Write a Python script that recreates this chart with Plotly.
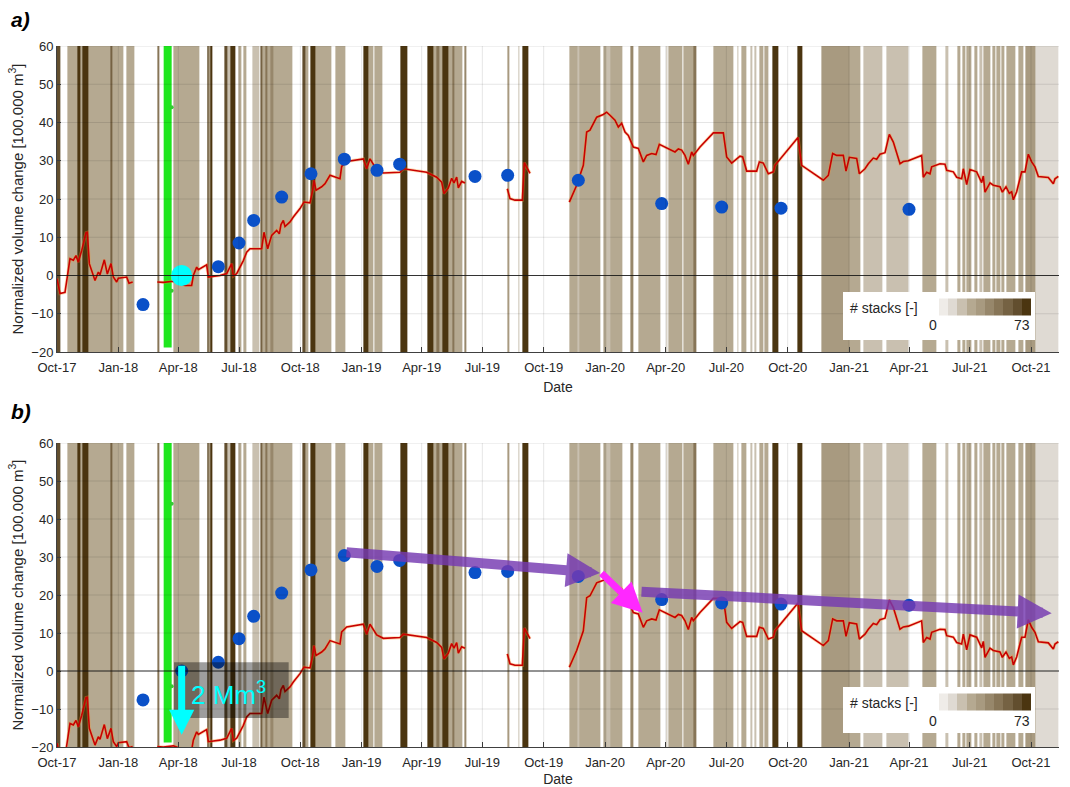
import numpy as np
import pandas as pd
import plotly.graph_objects as go
from plotly.subplots import make_subplots

# ---------------- data ----------------
T0 = pd.Timestamp("2017-10-01")          # day offsets below are counted from this date
X_RANGE = ["2017-10-01", "2021-11-12"]
Y_RANGE = [-20, 60]
Y_TICKS = [-20, -10, 0, 10, 20, 30, 40, 50, 60]
X_TICKS = list(pd.date_range("2017-10-01", "2021-10-01", freq="3MS"))

# stack-count bands (days since T0, start / end, number of stacks)
BAND_START = [-1, 15, 30, 34.5, 37.5, 46.5, 79.5, 83, 103.5, 150, 174, 225, 227, 230.5,
              250.5, 255, 259.5, 271.5, 279, 292.5, 304.5, 307.5, 312, 315, 319.5, 324,
              367.5, 372, 379.5, 387, 417, 459, 466.5, 475.5, 514.5, 555, 564, 568.5, 573,
              577.5, 586.5, 592.5, 595.5, 611, 675, 691.5, 698, 768, 780, 784, 819, 823.5,
              829.5, 859.5, 871.5, 913.5, 917, 939, 954, 984, 1020, 1026, 1039.5, 1045.5,
              1053, 1060.5, 1073, 1110, 1146, 1188, 1209, 1243.5, 1297.5, 1332, 1350,
              1357.5, 1363.5, 1375.5, 1383, 1389, 1402.5, 1408.5, 1416, 1423.5, 1441.5,
              1452, 1467]
BAND_END = [4.5, 30, 34.5, 37.5, 46.5, 79.5, 83, 99, 115.5, 153, 213, 227, 230.5, 232.5,
            255, 259.5, 267, 276, 283.5, 303, 307.5, 312, 315, 319.5, 324, 352.5,
            372, 376.5, 387, 411, 432, 466.5, 474, 487.5, 525.5, 564, 568.5, 573, 577.5,
            586.5, 592.5, 595.5, 607.5, 613.5, 679, 694, 707, 780, 784, 814.5, 823.5, 829.5,
            847.5, 864, 904.5, 915.5, 937.5, 954, 958.5, 1014, 1022, 1034, 1042.5, 1048.5,
            1059, 1066.5, 1081.5, 1118, 1188, 1204.5, 1237.5, 1276.5, 1318.5, 1336.5, 1354.5,
            1362, 1371, 1380, 1387.5, 1399.5, 1407, 1414.5, 1420.5, 1437, 1449,
            1467, 1501.5]
BAND_STACKS = [60, 25, 68, 25, 70, 25, 55, 25, 22, 50, 25, 68, 30, 68,
               60, 18, 68, 22, 25, 18, 55, 25, 45, 25, 40, 25,
               62, 25, 68, 25, 22, 73, 25, 22, 73, 70, 25, 50, 25,
               70, 25, 45, 22, 40, 35, 18, 70, 25, 15, 25, 25, 18,
               25, 40, 27, 20, 23, 25, 45, 25, 18, 22, 18, 20,
               22, 22, 73, 73, 30, 25, 18, 18, 25, 15, 22,
               22, 25, 22, 20, 25, 22, 25, 22, 25, 22,
               30, 10]
STACK_MAX = 73
STACK_COLORS = ["#efece8", "#dfdad3", "#c9c0b0", "#b5a991", "#a89a80",
                "#97876b", "#877557", "#756243", "#624e2e", "#4b3510"]

# normalized volume change, panel a (days since T0, 100.000 m3); None = data gap
LINE_DAY = [0, 4.5, 12, 19.5, 24.5, 28.5, 32, 37, 43.5, 45.5, 48.5, 57, 62, 64.5, 71, 75.5,
            81, 84.5, 89.5, 92, 104.5, 108, 113.5, 130,
            150.5, 159.5, 174.5, 192, 202, 204.5, 209.5, 212, 224.5, 227, 244.5, 254.5, 262,
            264.5, 269.5, 279.5, 284.5, 289.5, 307, 310.5, 316, 322, 329.5, 333.5, 336,
            339.5, 342, 349.5, 354.5, 364.5, 370.5, 379.5, 383.5, 385.5, 388.5, 397, 402,
            409.5, 424.5, 427, 434.5, 454.5, 459.5, 464.5, 469.5, 479.5, 489.5, 514.5,
            519.5, 554.5, 569.5, 577, 580.5, 587, 592, 595.5, 599.5, 602, 607, 612, 640,
            675.5, 679.5, 687, 698, 701, 704.5, 709.5, 740,
            768.5, 773.5, 779.5, 789.5, 794.5, 799.5, 802, 809.5, 819.5, 824.5, 829.5, 837,
            842, 847, 852, 857, 864.5, 872, 879.5, 884.5, 892, 898.5, 903.5, 912, 922, 927,
            932, 937, 942, 947, 952, 954.5, 964.5, 984.5, 999.5, 1004.5, 1012, 1024.5,
            1028.5, 1034.5, 1049.5, 1053.5, 1059.5, 1062, 1067, 1074.5, 1077, 1111.5, 1117,
            1149.5, 1157, 1163.5, 1169.5, 1179.5, 1183.5, 1188.5, 1199.5, 1203.5, 1212,
            1217, 1224.5, 1229.5, 1234.5, 1242, 1248.5, 1254.5, 1262, 1264.5, 1269.5, 1277,
            1297, 1299.5, 1304.5, 1309.5, 1312, 1319.5, 1324.5, 1332, 1334.5, 1344.5,
            1349.5, 1357, 1359.5, 1364.5, 1369.5, 1379.5, 1387, 1389.5, 1392, 1399.5,
            1404.5, 1414.5, 1418, 1423.5, 1428.5, 1432, 1434.5, 1439.5, 1447, 1452, 1457,
            1462, 1467, 1472, 1479.5, 1487, 1494.5, 1497, 1502]
LINE_VOL = [-0.8, -4.7, -4.4, 4.4, 4.0, 5.2, 3.5, 6.5, 11.2, 11.3, 3.1, -1.3, 0.9, 0.2, 4.1, 0.4,
            3.1, -0.4, -1.7, -0.7, -0.4, -2.0, -1.7, None,
            -1.7, -1.8, -1.5, -2.6, -2.6, 0.0, 2.2, 1.5, 2.8, -0.4, 0.0, 0.5, 3.1,
            -0.1, 0.5, 3.9, 6.1, 7.0, 7.0, 11.3, 7.0, 10.5, 11.8, 10.9, 13.3,
            14.4, 12.8, 14.0, 15.3, 17.5, 19.2, 19.0, 22.3, 24.9, 22.3, 23.2, 24.0,
            26.2, 25.3, 28.5, 29.8, 30.5, 30.5, 27.9, 30.5, 27.7, 26.8, 27.0,
            27.9, 27.0, 25.7, 24.4, 21.4, 22.9, 25.4, 24.2, 25.7, 22.9, 24.6, 24.2, None,
            22.7, 20.1, 19.7, 19.7, 29.5, 28.4, 26.7, None,
            19.2, 21.4, 23.6, 28.8, 37.5, 38.0, 38.8, 41.4, 42.1, 42.7, 41.9, 40.6,
            38.8, 39.8, 37.5, 36.6, 33.6, 33.2, 29.7, 31.4, 31.9, 31.6, 34.3, 33.6, 32.7, 32.3,
            33.1, 32.8, 31.4, 29.1, 32.3, 31.4, 33.6, 37.3, 37.3, 31.0, 29.4, 31.2,
            31.0, 27.3, 27.3, 29.7, 29.4, 28.4, 26.6, 27.1, 28.8, 36.1, 28.8,
            24.9, 26.2, 31.9, 31.4, 31.4, 27.3, 30.9, 30.6, 26.6, 27.9,
            29.2, 30.7, 30.4, 31.7, 32.1, 36.9, 34.9, 30.9, 29.2, 29.8, 30.0,
            31.4, 25.7, 27.0, 26.6, 28.4, 28.8, 29.2, 29.1, 27.5, 27.1,
            25.7, 25.3, 27.9, 23.8, 27.7, 27.1, 24.3, 26.0, 21.8, 24.2,
            23.6, 23.2, 21.8, 23.2, 21.5, 21.9, 19.8, 21.9, 27.1, 27.1, 31.7,
            29.7, 28.4, 25.9, 25.7, 25.6, 24.0, 25.3, 25.9]
OFFSET_B = -18.2   # panel b normalization shift

# survey points
SURVEY_DATE = ["2018-02-07", "2018-05-31", "2018-07-01", "2018-07-23", "2018-09-03",
               "2018-10-17", "2018-12-06", "2019-01-24", "2019-02-27", "2019-06-20",
               "2019-08-08", "2019-11-22", "2020-03-26", "2020-06-24", "2020-09-21",
               "2021-04-01"]
SURVEY_VOL = [-7.6, 2.3, 8.5, 14.4, 20.5, 26.6, 30.4, 27.5, 29.1, 25.9, 26.2, 24.9,
              18.8, 17.9, 17.6, 17.3]
REF_DATE, REF_VOL = "2018-04-06", 0.0

GREEN_DATE, GREEN_Y = "2018-03-16", [-18.8, 60]
GREEN_DOT_DATE, GREEN_DOT_Y = "2018-03-22", [44, -4]

# panel b annotations
BOX_DAYS, BOX_VOL = [175.5, 347.5], [-12.4, 2.3]
SHIFT_ARROW = dict(day=187, tail=1.8, tip=-16.8, label="2 Mm<sup>3</sup>",
                   label_day=198, label_vol=-5.8)
TREND_TAIL_DAY = [432, 814.5, 874.5]
TREND_TAIL_VOL = [31.3, 26.1, 20.9]
TREND_TIP_DAY = [814.5, 878.5, 1492]
TREND_TIP_VOL = [25.8, 15.3, 15.2]
TREND_COLOR = ["rgba(118,58,178,0.82)", "rgba(255,40,255,1)", "rgba(118,58,178,0.82)"]
TREND_WIDTH = [10, 7, 10]
TREND_HEAD = [0.68, 0.85, 0.68]


def d(day):
    return T0 + pd.Timedelta(days=float(day))


# ---------------- figure ----------------
FONT = "Arial, Liberation Sans, Helvetica, sans-serif"
TXT = "#262626"
W, H = 1070, 787
ML, MR, MT, MB = 57, 11, 46, 40
PW, PH = W - ML - MR, H - MT - MB

def px_y(py):  # pixel row -> paper fraction
    return (H - MB - py) / PH

def px_x(px):
    return (px - ML) / PW

fig = make_subplots(rows=2, cols=1)

# colorscale (discrete)
n = len(STACK_COLORS)
cs = []
for i, c in enumerate(STACK_COLORS):
    cs += [[i / n, c], [(i + 1) / n, c]]

edges = [BAND_START[0]]
zrow = []
for s, e, v in zip(BAND_START, BAND_END, BAND_STACKS):
    if s > edges[-1]:
        zrow.append(None)
        edges.append(s)
    zrow.append(v)
    edges.append(e)
x_edges = [d(v) for v in edges]

line_x = [d(v) for v in LINE_DAY]
vol_a = LINE_VOL
vol_b = [None if v is None else v + OFFSET_B for v in LINE_VOL]

legend_pos = [
    dict(row=1, cb_y=px_y(306.5), box=(292, 340), title_y=308, lab_y=325),
    dict(row=2, cb_y=px_y(701.5), box=(687, 733), title_y=703, lab_y=721),
]

for k, (vol, lp) in enumerate(zip([vol_a, vol_b], legend_pos)):
    r = lp["row"]
    fig.add_trace(go.Heatmap(
        x=x_edges, y=Y_RANGE, z=[zrow], zmin=0, zmax=STACK_MAX, colorscale=cs,
        hoverinfo="skip", showscale=True,
        colorbar=dict(orientation="h", x=px_x(984.5), xanchor="center", y=lp["cb_y"],
                      yanchor="middle", len=92 / PW, lenmode="fraction", thickness=17,
                      outlinewidth=0, showticklabels=False, ticks="", xpad=0, ypad=0,
                      bgcolor="rgba(0,0,0,0)")), row=r, col=1)
    fig.add_trace(go.Scatter(x=[GREEN_DATE, GREEN_DATE], y=GREEN_Y, mode="lines",
                             line=dict(color="#1ee61e", width=8), hoverinfo="skip"), row=r, col=1)
    fig.add_trace(go.Scatter(x=[GREEN_DOT_DATE] * 2, y=GREEN_DOT_Y, mode="markers",
                             marker=dict(color="#33cc33", size=4), hoverinfo="skip"), row=r, col=1)
    fig.add_trace(go.Scatter(x=line_x, y=vol, mode="lines", connectgaps=False,
                             line=dict(color="rgba(255,150,40,0.35)", width=3.2)), row=r, col=1)
    fig.add_trace(go.Scatter(x=line_x, y=vol, mode="lines", connectgaps=False,
                             line=dict(color="#c80000", width=1.6)), row=r, col=1)
    fig.add_trace(go.Scatter(x=SURVEY_DATE + [REF_DATE], y=SURVEY_VOL + [REF_VOL], mode="markers",
                             marker=dict(color="#0a50c8", size=13)), row=r, col=1)
    if r == 1:
        fig.add_trace(go.Scatter(x=[REF_DATE], y=[REF_VOL], mode="markers",
                                 marker=dict(color="#00ffff", size=21)), row=r, col=1)

shapes = []
annotations = []
for r, (xa, ya) in enumerate([("x", "y"), ("x2", "y2")], start=1):
    for yt in Y_TICKS[1:-1]:
        shapes.append(dict(type="line", xref=f"{xa} domain", yref=ya, x0=0, x1=1, y0=yt, y1=yt,
                           line=dict(color="rgba(0,0,0,0.10)", width=1), layer="above"))
    shapes.append(dict(type="line", xref=f"{xa} domain", yref=ya, x0=0, x1=1, y0=Y_TICKS[-1],
                       y1=Y_TICKS[-1], line=dict(color="rgba(0,0,0,0.12)", width=1), layer="above"))
    for xt in X_TICKS[1:]:
        shapes.append(dict(type="line", xref=xa, yref=f"{ya} domain", x0=xt, x1=xt, y0=0, y1=1,
                           line=dict(color="rgba(0,0,0,0.10)", width=1), layer="above"))
    shapes.append(dict(type="line", xref=f"{xa} domain", yref=ya, x0=0, x1=1, y0=0, y1=0,
                       line=dict(color="rgba(20,20,20,0.85)", width=1), layer="above"))

for lp in legend_pos:
    b0, b1 = lp["box"]
    shapes.append(dict(type="rect", xref="paper", yref="paper", x0=px_x(843), x1=px_x(1035),
                       y0=px_y(b1), y1=px_y(b0), fillcolor="white", line=dict(width=0),
                       layer="above"))
    annotations.append(dict(xref="paper", yref="paper", x=px_x(848), y=px_y(lp["title_y"]),
                            xanchor="left", yanchor="middle", text="# stacks [-]",
                            showarrow=False, font=dict(size=14, color=TXT)))
    annotations.append(dict(xref="paper", yref="paper", x=px_x(933), y=px_y(lp["lab_y"]),
                            xanchor="center", yanchor="middle", text="0",
                            showarrow=False, font=dict(size=14, color=TXT)))
    annotations.append(dict(xref="paper", yref="paper", x=px_x(1022), y=px_y(lp["lab_y"]),
                            xanchor="center", yanchor="middle", text=str(STACK_MAX),
                            showarrow=False, font=dict(size=14, color=TXT)))

# gray box panel b
shapes.append(dict(type="rect", xref="x2", yref="y2", x0=d(BOX_DAYS[0]), x1=d(BOX_DAYS[1]),
                   y0=BOX_VOL[0], y1=BOX_VOL[1], fillcolor="rgba(0,0,0,0.38)",
                   line=dict(width=0), layer="above"))

# arrows panel b
for td, tv, hd, hv, c, w, hs in zip(TREND_TAIL_DAY, TREND_TAIL_VOL, TREND_TIP_DAY,
                                    TREND_TIP_VOL, TREND_COLOR, TREND_WIDTH, TREND_HEAD):
    annotations.append(dict(xref="x2", yref="y2", axref="x2", ayref="y2",
                            x=d(hd), y=hv, ax=d(td), ay=tv, text="", showarrow=True,
                            arrowhead=2, arrowsize=hs, arrowwidth=w,
                            arrowcolor=c, standoff=0))
sa = SHIFT_ARROW
annotations.append(dict(xref="x2", yref="y2", axref="x2", ayref="y2",
                        x=d(sa["day"]), y=sa["tip"], ax=d(sa["day"]), ay=sa["tail"], text="",
                        showarrow=True, arrowhead=2, arrowsize=0.72, arrowwidth=7,
                        arrowcolor="#00ffff", standoff=0))
annotations.append(dict(xref="x2", yref="y2", x=d(sa["label_day"]), y=sa["label_vol"],
                        xanchor="left", yanchor="middle", text=sa["label"], showarrow=False,
                        font=dict(size=26, color="#00ffff")))

# panel letters
for lbl, py in [("a)", 20), ("b)", 411)]:
    annotations.append(dict(xref="paper", yref="paper", x=px_x(9), y=px_y(py), xanchor="left",
                            yanchor="middle", text=f"<b><i>{lbl}</i></b>", showarrow=False,
                            font=dict(size=21, color="black")))

axis_common = dict(showline=True, linecolor="#404040", linewidth=1, mirror=False,
                   ticks="inside", tickcolor="#404040", layer="above traces",
                   showgrid=False, zeroline=False, automargin=False,
                   tickfont=dict(size=13, color=TXT))

for r in (1, 2):
    fig.update_xaxes(range=X_RANGE, tickvals=X_TICKS, tickformat="%b-%y", ticklen=5,
                     ticklabelstandoff=3,
                     title=dict(text="Date", font=dict(size=14, color=TXT), standoff=8),
                     row=r, col=1, **axis_common)
    fig.update_yaxes(range=Y_RANGE, tickvals=Y_TICKS, ticklen=4,
                     title=dict(text="Normalized volume change [100.000 m<sup>3</sup>]",
                                font=dict(size=15, color=TXT), standoff=4),
                     row=r, col=1, **axis_common)

fig.update_layout(
    width=W, height=H, margin=dict(l=ML, r=MR, t=MT, b=MB, autoexpand=False),
    paper_bgcolor="white", plot_bgcolor="white", showlegend=False,
    font=dict(family=FONT, size=13, color=TXT),
    xaxis=dict(domain=[0, 1], anchor="y"), xaxis2=dict(domain=[0, 1], anchor="y2"),
    yaxis=dict(domain=[px_y(352), 1]), yaxis2=dict(domain=[0, px_y(443)]),
    shapes=shapes, annotations=annotations,
)

fig.write_html("out.html")
